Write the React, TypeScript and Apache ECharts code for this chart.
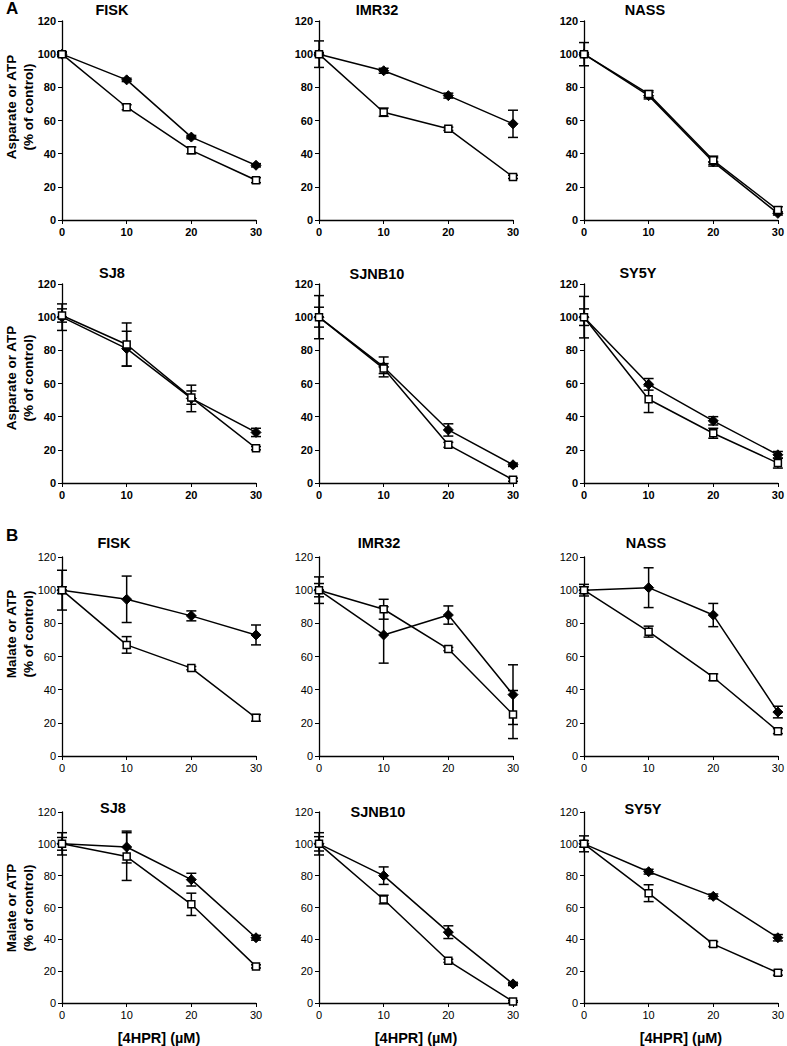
import React, { useEffect, useRef } from "react";
import * as echarts from "echarts";

// ---- data ----
const doses = [0, 10, 20, 30];
const yTicks = [0, 20, 40, 60, 80, 100, 120];
const xTicks = [0, 10, 20, 30];

const cellLinesTop = ["FISK", "IMR32", "NASS"];
const cellLinesBottom = ["SJ8", "SJNB10", "SY5Y"];

// Panel A: Asparate (diamond = filled, square = open)
const aFiskD = [100, 84.5, 50, 33];
const aFiskDe = [1, 1, 1, 1];
const aFiskS = [100, 68, 42, 24];
const aFiskSe = [1.5, 1.5, 2, 1.5];

const aImrD = [100, 90, 75, 58];
const aImrDe = [8, 1.5, 1.5, 8.2];
const aImrS = [100, 65, 55, 26];
const aImrSe = [1, 2.5, 1, 1];

const aNassD = [100, 75, 35, 4];
const aNassDe = [7, 2, 2.5, 1];
const aNassS = [100, 76, 36, 6];
const aNassSe = [1, 2, 2.5, 2];

const aSj8D = [100, 81, 51, 30.5];
const aSj8De = [8, 10.5, 8, 2.5];
const aSj8S = [101, 83.5, 51.5, 21];
const aSj8Se = [4, 13, 4, 1];

const aSjnbD = [100, 70, 32, 11];
const aSjnbDe = [13, 6, 3.7, 1];
const aSjnbS = [100, 69, 23, 2];
const aSjnbSe = [6, 3, 1.5, 1];

const aSy5yD = [100, 59.5, 37.5, 17];
const aSy5yDe = [12.5, 3.5, 2.5, 2];
const aSy5yS = [100, 50.5, 30, 12];
const aSy5ySe = [5, 8, 3, 3];

// Panel B: Malate
const bFiskD = [100, 94.5, 84.5, 73];
const bFiskDe = [12, 14, 3, 6];
const bFiskS = [100, 67, 53, 23];
const bFiskSe = [2, 5, 1, 2];

const bImrD = [100, 73, 85, 37];
const bImrDe = [8, 17, 5.5, 18];
const bImrS = [100, 88.5, 64.5, 25];
const bImrSe = [4, 6, 1, 14.5];

const bNassD = [100, 101.5, 85, 26.5];
const bNassDe = [3.5, 12, 7, 3.5];
const bNassS = [100, 75, 47.5, 15];
const bNassSe = [2, 3.3, 2, 1.5];

const bSj8D = [100, 98, 77.5, 41];
const bSj8De = [7, 10, 4, 1.5];
const bSj8S = [100, 92, 62, 23];
const bSj8Se = [4, 15, 7, 1];

const bSjnbD = [100, 80, 44.5, 12];
const bSjnbDe = [7, 5.5, 4, 1];
const bSjnbS = [100, 65, 26.5, 1];
const bSjnbSe = [4.5, 2.7, 1, 0.5];

const bSy5yD = [100, 82.5, 67, 41];
const bSy5yDe = [5, 1.5, 1.5, 2];
const bSy5yS = [100, 69, 37, 19];
const bSy5ySe = [2, 5.3, 1.5, 1.5];

const panels = [
  { title: cellLinesTop[0], d: aFiskD, de: aFiskDe, s: aFiskS, se: aFiskSe },
  { title: cellLinesTop[1], d: aImrD, de: aImrDe, s: aImrS, se: aImrSe },
  { title: cellLinesTop[2], d: aNassD, de: aNassDe, s: aNassS, se: aNassSe },
  { title: cellLinesBottom[0], d: aSj8D, de: aSj8De, s: aSj8S, se: aSj8Se },
  { title: cellLinesBottom[1], d: aSjnbD, de: aSjnbDe, s: aSjnbS, se: aSjnbSe },
  { title: cellLinesBottom[2], d: aSy5yD, de: aSy5yDe, s: aSy5yS, se: aSy5ySe },
  { title: cellLinesTop[0], d: bFiskD, de: bFiskDe, s: bFiskS, se: bFiskSe },
  { title: cellLinesTop[1], d: bImrD, de: bImrDe, s: bImrS, se: bImrSe },
  { title: cellLinesTop[2], d: bNassD, de: bNassDe, s: bNassS, se: bNassSe },
  { title: cellLinesBottom[0], d: bSj8D, de: bSj8De, s: bSj8S, se: bSj8Se },
  { title: cellLinesBottom[1], d: bSjnbD, de: bSjnbDe, s: bSjnbS, se: bSjnbSe },
  { title: cellLinesBottom[2], d: bSy5yD, de: bSy5yDe, s: bSy5yS, se: bSy5ySe },
];

const yNameA = ["Asparate or ATP", "(% of control)"];
const yNameB = ["Malate or ATP", "(% of control)"];
const xName = "[4HPR] (\u00b5M)";

// ---- layout ----
const FONT = "'Liberation Sans', Arial, sans-serif";
const colLeft = [62, 319, 584];
const colWidth = [194, 194, 194];
const rowTop = [21, 284, 557, 812];
const plotH = 199;
const titlePos = [
  [112, 10], [377, 10], [645, 10],
  [112, 273], [377, 274], [638, 273],
  [114, 543], [379, 543], [646, 543],
  [113, 808], [378, 812], [643, 809],
];
const yNameCenterY = [107, 378, 634, 908];
const yNameLineX = [11, 28];

function errorBarSeries(idx: number, xs: number[], ys: number[], es: number[]) {
  return {
    type: "custom",
    xAxisIndex: idx,
    yAxisIndex: idx,
    clip: false,
    z: 3,
    silent: true,
    data: xs.map((x, i) => [x, ys[i], es[i]]),
    encode: { x: 0, y: 1 },
    renderItem: (_p: any, api: any) => {
      const x = api.value(0);
      const y = api.value(1);
      const e = api.value(2);
      const top = api.coord([x, y + e]);
      const bot = api.coord([x, y - e]);
      const hw = 5;
      const st = { stroke: "#000", lineWidth: 1.5 };
      return {
        type: "group",
        children: [
          { type: "line", shape: { x1: top[0], y1: top[1], x2: bot[0], y2: bot[1] }, style: st },
          { type: "line", shape: { x1: top[0] - hw, y1: top[1], x2: top[0] + hw, y2: top[1] }, style: st },
          { type: "line", shape: { x1: bot[0] - hw, y1: bot[1], x2: bot[0] + hw, y2: bot[1] }, style: st },
        ],
      };
    },
  };
}

export default function App() {
  const ref = useRef<HTMLDivElement>(null);
  useEffect(() => {
    document.body.style.margin = "0";
    if (!ref.current) return;
    const chart = echarts.init(ref.current, undefined, { renderer: "svg" });
    const grid: any[] = [];
    const xAxis: any[] = [];
    const yAxis: any[] = [];
    const series: any[] = [];
    const graphic: any[] = [];
    panels.forEach((p, i) => {
      const row = Math.floor(i / 3);
      const col = i % 3;
      const bold = row < 2;
      const labelStyle = {
        color: "#000",
        fontFamily: FONT,
        fontSize: 11,
        fontWeight: bold ? "bold" : "normal",
      };
      grid.push({ left: colLeft[col], top: rowTop[row], width: colWidth[col], height: plotH });
      xAxis.push({
        type: "value",
        gridIndex: i,
        min: 0,
        max: 30,
        interval: 10,
        splitLine: { show: false },
        axisLine: { lineStyle: { color: "#000", width: 1.3 } },
        axisTick: { show: true, length: 4, lineStyle: { color: "#000" } },
        axisLabel: { ...labelStyle, margin: 6, customValues: xTicks },
        name: row === 3 ? xName : "",
        nameLocation: "middle",
        nameGap: 27,
        nameTextStyle: { color: "#000", fontFamily: FONT, fontSize: 14.5, fontWeight: "bold" },
      });
      yAxis.push({
        type: "value",
        gridIndex: i,
        min: 0,
        max: 120,
        interval: 20,
        splitLine: { show: false },
        axisLine: { show: true, lineStyle: { color: "#000", width: 1.3 } },
        axisTick: { show: true, length: 4, lineStyle: { color: "#000" } },
        axisLabel: { ...labelStyle, margin: 6, customValues: yTicks },
      });
      series.push(errorBarSeries(i, doses, p.d, p.de));
      series.push(errorBarSeries(i, doses, p.s, p.se));
      series.push({
        type: "line",
        xAxisIndex: i,
        yAxisIndex: i,
        data: doses.map((x, k) => [x, p.d[k]]),
        symbol: "diamond",
        symbolSize: 10,
        clip: false,
        z: 4,
        lineStyle: { color: "#000", width: 1.5 },
        itemStyle: { color: "#000", borderColor: "#000" },
      });
      series.push({
        type: "line",
        xAxisIndex: i,
        yAxisIndex: i,
        data: doses.map((x, k) => [x, p.s[k]]),
        symbol: "rect",
        symbolSize: 7,
        clip: false,
        z: 4,
        lineStyle: { color: "#000", width: 1.5 },
        itemStyle: { color: "#fff", borderColor: "#000", borderWidth: 1.5 },
      });
      graphic.push({
        type: "text",
        x: titlePos[i][0],
        y: titlePos[i][1],
        style: {
          text: p.title,
          fill: "#000",
          font: `bold 14.5px ${FONT}`,
          align: "center",
          verticalAlign: "middle",
        },
      });
      if (col === 0) {
        const names = row < 2 ? yNameA : yNameB;
        names.forEach((t, li) => {
          graphic.push({
            type: "text",
            x: yNameLineX[li],
            y: yNameCenterY[row],
            rotation: Math.PI / 2,
            style: {
              text: t,
              fill: "#000",
              font: `bold 13.5px ${FONT}`,
              align: "center",
              verticalAlign: "middle",
            },
          });
        });
      }
    });
    graphic.push({
      type: "text",
      x: 6,
      y: 8,
      style: { text: "A", fill: "#000", font: `bold 17px ${FONT}`, align: "left", verticalAlign: "middle" },
    });
    graphic.push({
      type: "text",
      x: 6,
      y: 535,
      style: { text: "B", fill: "#000", font: `bold 17px ${FONT}`, align: "left", verticalAlign: "middle" },
    });
    chart.setOption({
      animation: false,
      backgroundColor: "#fff",
      grid,
      xAxis,
      yAxis,
      series,
      graphic,
    });
    return () => chart.dispose();
  }, []);
  return <div ref={ref} style={{ width: 787, height: 1046 }} />;
}
